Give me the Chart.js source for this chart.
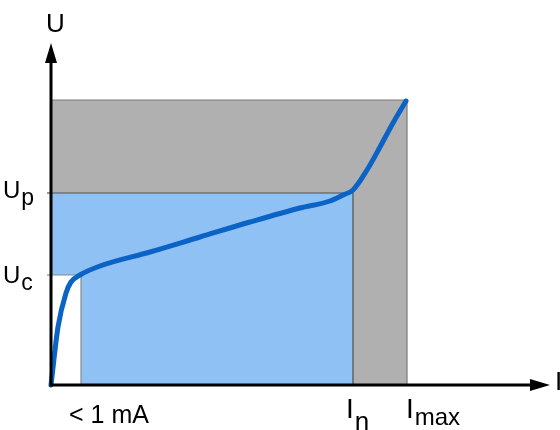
<!DOCTYPE html>
<html>
<head>
<meta charset="utf-8">
<script src="https://cdn.jsdelivr.net/npm/chart.js@4.4.0/dist/chart.umd.min.js"></script>
<style>
  html, body { margin: 0; padding: 0; background: #fff; }
  #wrap { width: 560px; height: 430px; }
</style>
</head>
<body>
<div id="wrap"><canvas id="ivChart"></canvas></div>
<script>
// Valeurs caractéristiques (unités arbitraires du schéma)
const currentMarks = [30, 302, 356];      // < 1 mA, In, Imax
const voltageMarks = [110, 192, 285];     // Uc, Up, Umax
const axisEnds = [499, 342];              // fin des axes I et U

// Courbe caractéristique U = f(I)
const curveI = [0, 7, 15, 20, 29, 49, 99, 149, 199, 249, 279, 292, 302, 316, 329, 342, 355];
const curveU = [0, 58, 92, 103, 110, 119, 133, 148, 163, 177, 184, 190, 195, 215, 238, 262, 284];

// Textes
const axisNames = ['I', 'U'];
const xTickText = ['< 1 mA', 'I', 'I'];
const xTickSub = ['', 'n', 'max'];
const yTickText = ['U', 'U'];
const yTickSub = ['c', 'p'];

const pts = (xs, ys) => xs.map((x, i) => ({ x: x, y: ys[i] }));
const curve = pts(curveI, curveU);

const FONT = "'Liberation Sans', Arial, sans-serif";

// texte + indice
function drawSub(ctx, main, sub, x, y, size, subSize, dy) {
    ctx.font = size + 'px ' + FONT;
    ctx.fillText(main, x, y);
    const w = ctx.measureText(main).width;
    if (sub) {
        ctx.font = subSize + 'px ' + FONT;
        ctx.fillText(sub, x + w + 1, y + dy);
    }
}

// Axes avec flèches + étiquettes
const schemaPlugin = {
    id: 'schema',
    afterDatasetsDraw(chart) {
        const ctx = chart.ctx;
        const sx = chart.scales.x, sy = chart.scales.y;
        const x0 = sx.getPixelForValue(0), y0 = sy.getPixelForValue(0);
        const xe = sx.getPixelForValue(axisEnds[0]);
        const ye = sy.getPixelForValue(axisEnds[1]);
        ctx.save();
        ctx.strokeStyle = '#000';
        ctx.fillStyle = '#000';
        ctx.lineWidth = 3;
        ctx.beginPath();
        ctx.moveTo(x0, y0 + 1.5);
        ctx.lineTo(x0, ye + 15);
        ctx.moveTo(x0 - 1.5, y0);
        ctx.lineTo(xe - 15, y0);
        ctx.stroke();
        // pointes
        ctx.beginPath();
        ctx.moveTo(x0, ye);
        ctx.lineTo(x0 - 6, ye + 20);
        ctx.lineTo(x0 + 6, ye + 20);
        ctx.closePath();
        ctx.fill();
        ctx.beginPath();
        ctx.moveTo(xe, y0);
        ctx.lineTo(xe - 20, y0 - 6);
        ctx.lineTo(xe - 20, y0 + 6);
        ctx.closePath();
        ctx.fill();

        ctx.textBaseline = 'alphabetic';
        ctx.textAlign = 'left';
        // noms des axes
        ctx.font = '26px ' + FONT;
        ctx.fillText(axisNames[1], x0 - 5, 32);
        ctx.fillText(axisNames[0], xe + 5, y0 + 5);

        // graduations U
        drawSub(ctx, yTickText[0], yTickSub[0], 3, sy.getPixelForValue(voltageMarks[0]) + 8, 24, 23, 7);
        drawSub(ctx, yTickText[1], yTickSub[1], 3, sy.getPixelForValue(voltageMarks[1]) + 5, 24, 23, 7);

        // graduations I
        drawSub(ctx, xTickText[0], '', sx.getPixelForValue(currentMarks[0]) - 12, y0 + 38, 25, 25, 0);
        drawSub(ctx, xTickText[1], xTickSub[1], sx.getPixelForValue(currentMarks[1]) - 7, y0 + 33, 28, 26, 12);
        drawSub(ctx, xTickText[2], xTickSub[2], sx.getPixelForValue(currentMarks[2]) - 1, y0 + 33, 28, 24, 7);
        ctx.restore();
    }
};

new Chart(document.getElementById('ivChart'), {
    type: 'line',
    data: {
        datasets: [
            {   // courbe caractéristique
                data: curve,
                borderColor: '#0b63c6',
                borderWidth: 5,
                borderCapStyle: 'round',
                cubicInterpolationMode: 'monotone',
                fill: false,
                order: 0
            },
            {   // zone < 1 mA
                data: pts([0, currentMarks[0], currentMarks[0]], [voltageMarks[0], voltageMarks[0], 0]),
                borderColor: '#8a8a8a',
                borderWidth: 1.2,
                backgroundColor: '#ffffff',
                fill: 'origin',
                order: 1
            },
            {   // zone nominale
                data: pts([0, currentMarks[1], currentMarks[1]], [voltageMarks[1], voltageMarks[1], 0]),
                borderColor: '#505050',
                borderWidth: 1.2,
                backgroundColor: '#8fc1f5',
                fill: 'origin',
                order: 2
            },
            {   // zone max
                data: pts([0, currentMarks[2], currentMarks[2]], [voltageMarks[2], voltageMarks[2], 0]),
                borderColor: '#7a7a7a',
                borderWidth: 1.2,
                backgroundColor: '#b0b0b0',
                fill: 'origin',
                order: 3
            },
            {   // trait Uc
                data: pts([-4, 0], [voltageMarks[0], voltageMarks[0]]),
                borderColor: '#8a8a8a',
                borderWidth: 1.2,
                fill: false,
                order: 4
            },
            {   // trait Up
                data: pts([-4, 0], [voltageMarks[1], voltageMarks[1]]),
                borderColor: '#505050',
                borderWidth: 1.2,
                fill: false,
                order: 4
            }
        ]
    },
    options: {
        responsive: true,
        maintainAspectRatio: false,
        animation: false,
        layout: { padding: 0 },
        elements: { point: { radius: 0, hoverRadius: 0 }, line: { tension: 0 } },
        plugins: { legend: { display: false }, tooltip: { enabled: false } },
        scales: {
            x: { type: 'linear', min: -51, max: 509, display: false },
            y: { type: 'linear', min: -45, max: 385, display: false }
        }
    },
    plugins: [schemaPlugin]
});
</script>
</body>
</html>
